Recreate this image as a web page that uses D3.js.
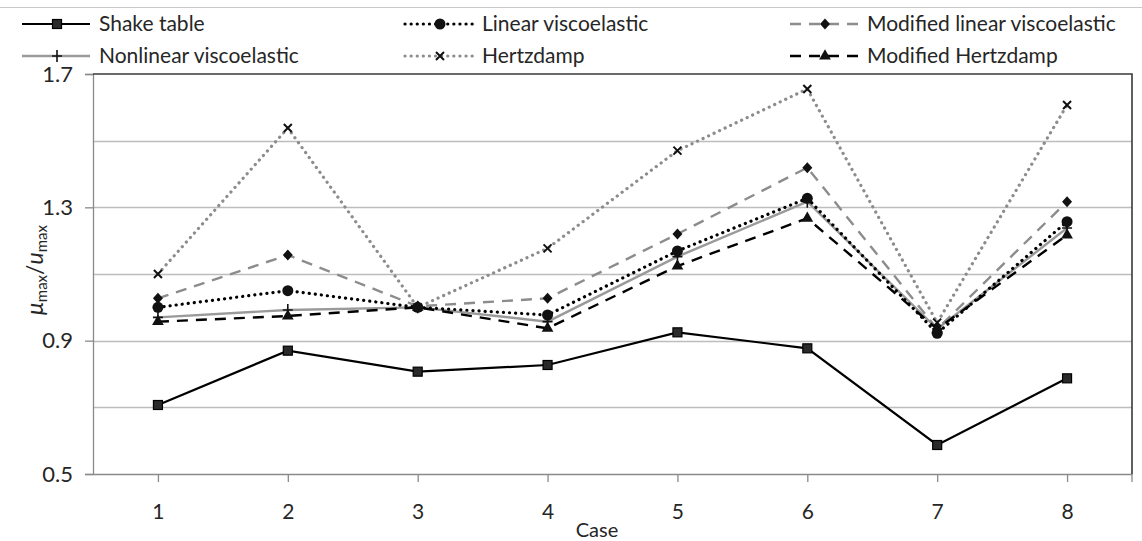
<!DOCTYPE html>
<html><head><meta charset="utf-8">
<script src="https://cdn.jsdelivr.net/npm/d3@7"></script>
<style>body{margin:0;background:#fff}svg{display:block}text{font-family:Lato,"Liberation Sans",sans-serif;fill:#262626}</style>
</head><body><svg id="c" width="1142" height="541"></svg>
<script>
const cases = ["1","2","3","4","5","6","7","8"];
const shakeTable     = [0.707, 0.870, 0.807, 0.827, 0.925, 0.877, 0.587, 0.787];
const linearVisco    = [1.000, 1.050, 1.000, 0.977, 1.169, 1.327, 0.922, 1.257];
const modLinearVisco = [1.027, 1.157, 1.003, 1.027, 1.220, 1.419, 0.935, 1.317];
const nonlinearVisco = [0.970, 0.992, 1.000, 0.957, 1.152, 1.317, 0.935, 1.238];
const hertzdamp      = [1.100, 1.538, 1.000, 1.177, 1.470, 1.655, 0.954, 1.607];
const modHertzdamp   = [0.957, 0.974, 1.000, 0.937, 1.124, 1.267, 0.935, 1.217];
const yTicks = [0.5, 0.9, 1.3, 1.7];
const yGrid = [0.7, 0.9, 1.1, 1.3, 1.5];
const seriesNames = ["Shake table","Linear viscoelastic","Modified linear viscoelastic","Nonlinear viscoelastic","Hertzdamp","Modified Hertzdamp"];

const series = [
  {name: seriesNames[0], values: shakeTable, color:"#000", width:2.2, dash:null, marker:"square"},
  {name: seriesNames[1], values: linearVisco, color:"#000", width:3.2, dash:"0.1 6", cap:"round", marker:"circle"},
  {name: seriesNames[2], values: modLinearVisco, color:"#8c8c8c", width:2.4, dash:"11 8", marker:"diamond"},
  {name: seriesNames[3], values: nonlinearVisco, color:"#9a9a9a", width:2.4, dash:null, marker:"plus"},
  {name: seriesNames[4], values: hertzdamp, color:"#8c8c8c", width:3.2, dash:"0.1 6", cap:"round", marker:"x"},
  {name: seriesNames[5], values: modHertzdamp, color:"#000", width:2.4, dash:"11 8", marker:"triangle"}
];
const drawOrder = [3,2,4,5,1,0];

const svg = d3.select("#c");
const L = 93, R = 1132, T = 74, B = 474;
const x = d3.scalePoint().domain(cases).range([L, R]).padding(0.5);
const y = d3.scaleLinear().domain([0.5, 1.7]).range([B, T]);

svg.append("line").attr("x1",0).attr("x2",1142).attr("y1",7.5).attr("y2",7.5).attr("stroke","#c8c8c8");

svg.append("g").selectAll("line").data(yGrid).join("line")
  .attr("x1",L).attr("x2",R).attr("y1",d=>Math.round(y(d))+0.5).attr("y2",d=>Math.round(y(d))+0.5)
  .attr("stroke","#bdbdbd").attr("stroke-width",1.3);

const yAxis = svg.append("g").attr("transform",`translate(${L},0)`)
  .call(d3.axisLeft(y).tickValues(yTicks).tickSize(8).tickPadding(12).tickFormat(d3.format(".1f")));
yAxis.select(".domain").attr("stroke","#8a8a8a").attr("stroke-width",1.3);
yAxis.selectAll(".tick line").attr("stroke","#8a8a8a").attr("stroke-width",1.3);
yAxis.selectAll("text").attr("font-size",22).attr("fill","#262626").style("font-family","Lato");

const xAxis = svg.append("g").attr("transform",`translate(0,${B})`)
  .call(d3.axisBottom(x).tickSize(8).tickPadding(22).tickSizeOuter(0));
xAxis.select(".domain").attr("stroke","#8a8a8a").attr("stroke-width",1.3);
xAxis.selectAll(".tick line").attr("stroke","#8a8a8a").attr("stroke-width",1.3);
xAxis.selectAll("text").attr("font-size",21).attr("fill","#262626").style("font-family","Lato");
svg.append("line").attr("x1",R).attr("x2",R).attr("y1",B).attr("y2",B+8).attr("stroke","#8a8a8a").attr("stroke-width",1.3);

svg.append("path").attr("d",`M${L},${T}H${R}V${B}`).attr("fill","none").attr("stroke","#3a3a3a").attr("stroke-width",1.6);

svg.append("text").attr("x",597).attr("y",537).attr("text-anchor","middle").attr("font-size",20).text("Case");
const yl = svg.append("text").attr("transform","translate(43,270) rotate(-90)").attr("text-anchor","middle").attr("font-size",23);
yl.append("tspan").attr("font-style","italic").text("μ");
yl.append("tspan").attr("font-size",15).attr("dy",4).text("max");
yl.append("tspan").attr("dy",-4).text("/");
yl.append("tspan").attr("font-style","italic").text("u");
yl.append("tspan").attr("font-size",15).attr("dy",4).text("max");

function marker(g, type, cx, cy){
  if(type==="square") g.append("rect").attr("x",cx-4.5).attr("y",cy-4.5).attr("width",9).attr("height",9).attr("fill","#2a2a2a").attr("stroke","#000").attr("stroke-width",1.2);
  else if(type==="circle") g.append("circle").attr("cx",cx).attr("cy",cy).attr("r",5.5).attr("fill","#111");
  else if(type==="diamond") g.append("path").attr("d",`M${cx},${cy-5.5}L${cx+5},${cy}L${cx},${cy+5.5}L${cx-5},${cy}Z`).attr("fill","#111");
  else if(type==="triangle") g.append("path").attr("d",d3.symbol(d3.symbolTriangle,60)()).attr("transform",`translate(${cx},${cy})`).attr("fill","#111");
  else if(type==="plus") g.append("path").attr("d",`M${cx-5},${cy}H${cx+5}M${cx},${cy-6}V${cy+6}`).attr("stroke","#111").attr("stroke-width",1.6);
  else if(type==="x") g.append("path").attr("d",`M${cx-4},${cy-4}L${cx+4},${cy+4}M${cx-4},${cy+4}L${cx+4},${cy-4}`).attr("stroke","#111").attr("stroke-width",2);
}

const line = d3.line().x((d,i)=>x(cases[i])).y(d=>y(d));
drawOrder.forEach(k=>{
  const s = series[k];
  const g = svg.append("g");
  g.append("path").attr("d",line(s.values)).attr("fill","none").attr("stroke",s.color)
   .attr("stroke-width",s.width).attr("stroke-dasharray",s.dash).attr("stroke-linecap",s.cap||"butt");
  s.values.forEach((v,i)=>marker(g,s.marker,x(cases[i]),y(v)));
});

const legPos = [[22,24],[405,24],[790,24],[22,56],[405,56],[790,56]];
series.forEach((s,j)=>{
  const [lx,ly] = legPos[j];
  const g = svg.append("g");
  g.append("line").attr("x1",lx).attr("x2",lx+68).attr("y1",ly).attr("y2",ly).attr("stroke",s.color)
    .attr("stroke-width",s.width).attr("stroke-dasharray",s.dash).attr("stroke-linecap",s.cap||"butt");
  marker(g,s.marker,lx+35,ly);
  g.append("text").attr("x",lx+77).attr("y",ly+7).attr("font-size",21).text(s.name);
});
</script></body></html>
